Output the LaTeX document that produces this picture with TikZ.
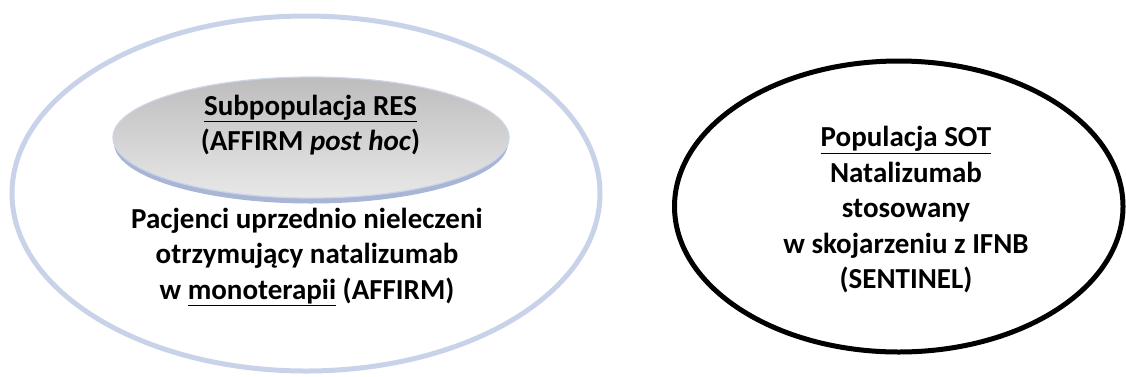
\documentclass[tikz,border=0pt]{standalone}
\usepackage{fontspec}
\setmainfont{Carlito}
\usetikzlibrary{shapes.geometric}
\definecolor{outerblue}{HTML}{C8D2E8}
\definecolor{shadowblue}{HTML}{A9B5D5}
\definecolor{rimblue}{HTML}{CDD5E8}
\definecolor{graytop}{HTML}{BDBDBD}
\definecolor{graybot}{HTML}{E8E8E8}
\newcommand{\ul}[1]{\underline{#1}}
\tikzset{
  elli/.style={ellipse, inner sep=0pt, outer sep=0pt},
  txt/.style={font=\fontsize{29}{35.5}\selectfont\bfseries, align=center, inner sep=0pt}
}
\begin{document}
\begin{tikzpicture}[x=1pt,y=-1pt]
\useasboundingbox (0,0) rectangle (1126,376);
% outer light ellipse
\node[elli, draw=outerblue, line width=5pt, minimum width=588pt, minimum height=355pt] (outer) at (306,193.5) {};
% inner shadow
\node[elli, fill=shadowblue, minimum width=394pt, minimum height=121pt] (innershadow) at (311,143) {};
% inner gray ellipse
\node[elli, top color=graytop, bottom color=graybot, draw=rimblue, line width=1.2pt, minimum width=396pt, minimum height=121pt] (inner) at (311,137.5) {};
\node[txt] (innerlabel) at (310.5,125) {\ul{Subpopulacja RES}\\(AFFIRM \textit{post hoc})};
\node[txt] (outerlabel) at (307,257) {Pacjenci uprzednio nieleczeni\\otrzymujący natalizumab\\w \ul{monoterapii} (AFFIRM)};
% right ellipse
\node[elli, draw=black, line width=5pt, minimum width=448.5pt, minimum height=291pt] (sot) at (898.75,206.5) {};
\node[txt] (sotlabel) at (906,210) {\ul{Populacja SOT}\\Natalizumab\\stosowany\\w skojarzeniu z IFNB\\(SENTINEL)};
\end{tikzpicture}
\end{document}
